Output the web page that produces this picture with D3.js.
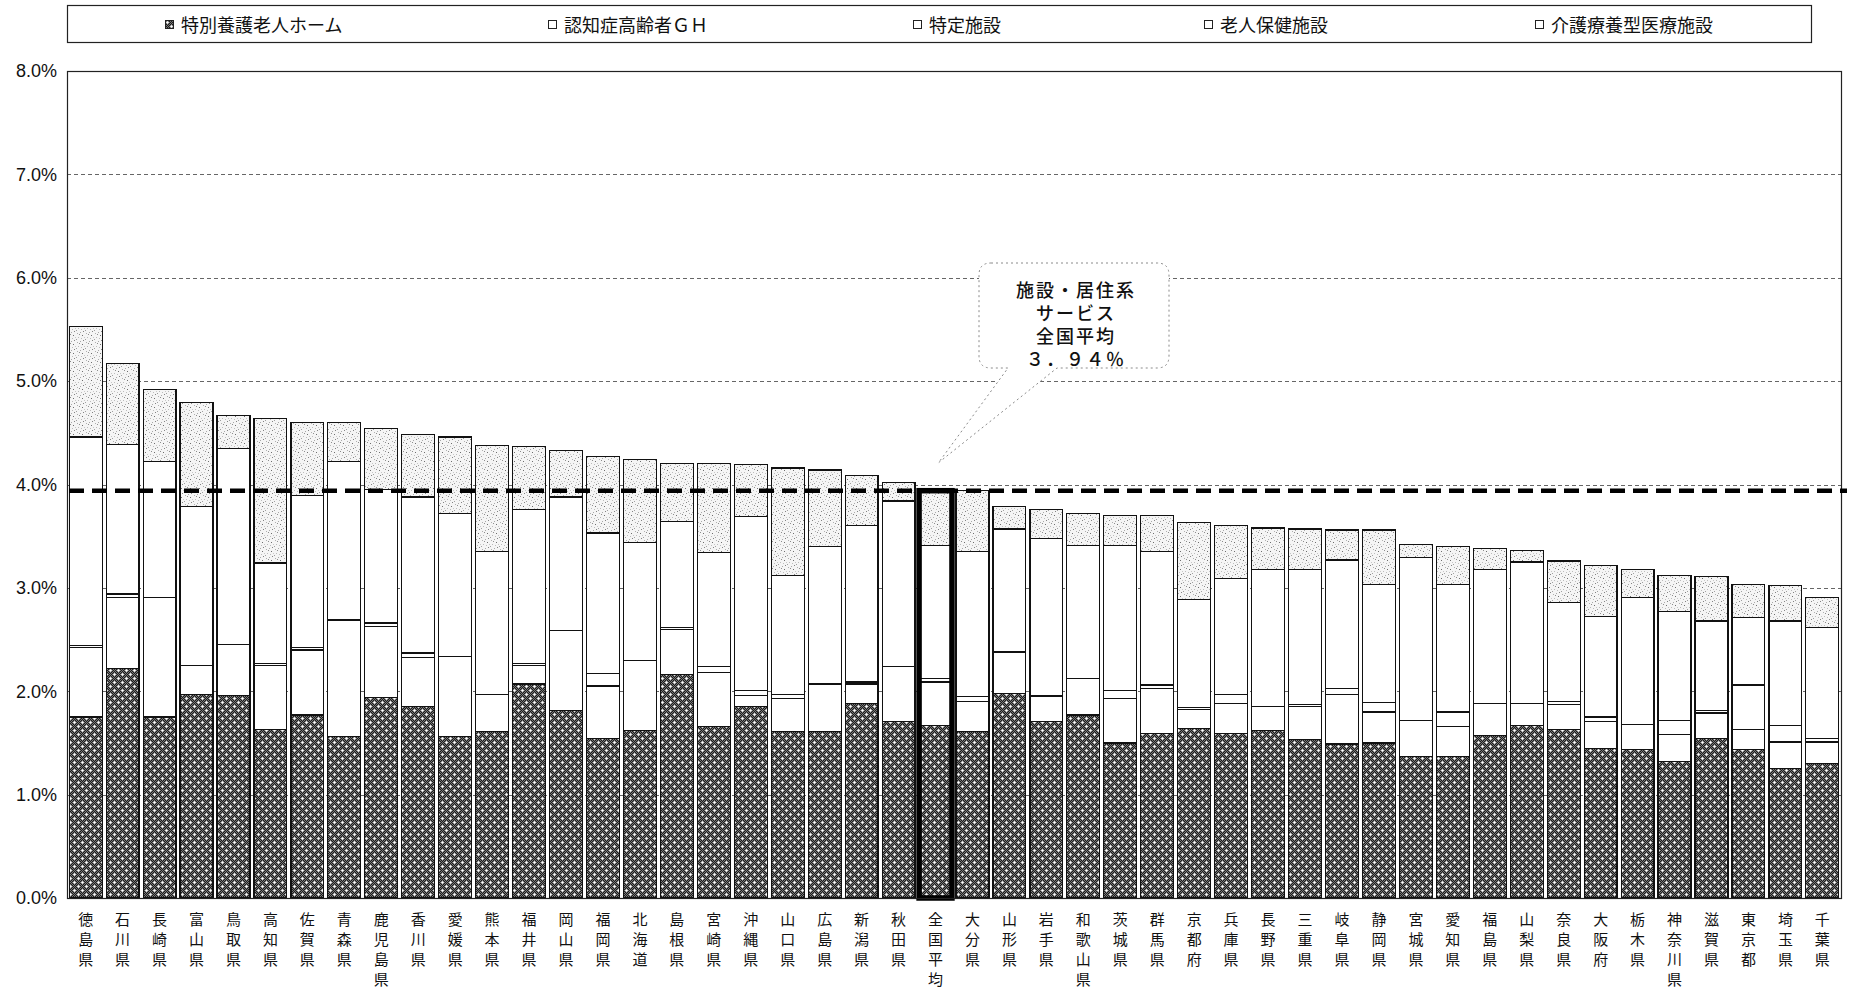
<!DOCTYPE html>
<html>
<head>
<meta charset="utf-8">
<script src="https://cdn.jsdelivr.net/npm/d3@7"></script>
<style>
  body { margin: 0; background: #fff; }
  svg { display: block; }
  text { fill: #111; }
</style>
</head>
<body>
<svg id="chart" width="1849" height="989"></svg>
<script>
// Share of the population 65+ using facility / residential care services, by prefecture (%)
const prefectures = ["徳島県","石川県","長崎県","富山県","鳥取県","高知県","佐賀県","青森県","鹿児島県","香川県","愛媛県","熊本県","福井県","岡山県","福岡県","北海道","島根県","宮崎県","沖縄県","山口県","広島県","新潟県","秋田県","全国平均","大分県","山形県","岩手県","和歌山県","茨城県","群馬県","京都府","兵庫県","長野県","三重県","岐阜県","静岡県","宮城県","愛知県","福島県","山梨県","奈良県","大阪府","栃木県","神奈川県","滋賀県","東京都","埼玉県","千葉県"];

const tokuyou   = [1.75,2.22,1.75,1.97,1.96,1.63,1.77,1.56,1.94,1.85,1.56,1.61,2.07,1.81,1.54,1.62,2.16,1.66,1.85,1.61,1.61,1.88,1.71,1.67,1.61,1.98,1.71,1.77,1.50,1.59,1.64,1.59,1.62,1.53,1.49,1.50,1.37,1.37,1.57,1.67,1.63,1.45,1.44,1.32,1.54,1.44,1.25,1.30];
const groupHome = [0.67,0.69,1.16,0.28,0.49,0.62,0.63,1.13,0.69,0.48,0.78,0.36,0.18,0.78,0.51,0.68,0.44,0.52,0.11,0.32,0.46,0.19,0.53,0.42,0.29,0.40,0.24,0.35,0.43,0.44,0.18,0.29,0.23,0.32,0.48,0.30,0.35,0.29,0.31,0.21,0.24,0.26,0.24,0.26,0.25,0.19,0.26,0.21];
const tokutei   = [0.02,0.03,0.00,0.00,0.00,0.02,0.02,0.00,0.03,0.04,0.00,0.00,0.02,0.00,0.12,0.00,0.02,0.06,0.05,0.04,0.00,0.02,0.00,0.03,0.05,0.00,0.01,0.00,0.08,0.03,0.02,0.09,0.00,0.02,0.06,0.09,0.00,0.14,0.00,0.00,0.03,0.04,0.00,0.14,0.02,0.43,0.16,0.03];
const rouken    = [2.02,1.45,1.31,1.54,1.90,0.97,1.47,1.53,1.29,1.51,1.38,1.38,1.49,1.29,1.36,1.14,1.02,1.10,1.68,1.15,1.33,1.51,1.60,1.29,1.40,1.19,1.52,1.29,1.40,1.29,1.05,1.12,1.33,1.31,1.24,1.14,1.57,1.23,1.30,1.37,0.96,0.97,1.23,1.05,0.87,0.65,1.01,1.08];
const ryouyou   = [1.07,0.78,0.70,1.00,0.32,1.40,0.71,0.38,0.59,0.60,0.74,1.03,0.61,0.45,0.74,0.80,0.56,0.86,0.50,1.04,0.74,0.49,0.18,0.53,0.59,0.22,0.28,0.31,0.29,0.35,0.74,0.51,0.40,0.39,0.29,0.53,0.13,0.37,0.20,0.11,0.40,0.50,0.27,0.35,0.43,0.32,0.34,0.29];

const seriesKeys  = ["tokuyou","groupHome","tokutei","rouken","ryouyou"];
const seriesNames = ["特別養護老人ホーム","認知症高齢者ＧＨ","特定施設","老人保健施設","介護療養型医療施設"];
const yTicks = [0,1,2,3,4,5,6,7,8];
const nationalName = "全国平均";
const nationalAverage = 3.94;
const calloutLines = ["施設・居住系","サービス","全国平均","３．９４％"];

const svg = d3.select("#chart");
const plot = { left: 67, right: 1841, top: 71, bottom: 898 };

// ---- fill patterns ----
const defs = svg.append("defs");
// dark cross-hatch with white specks (特別養護老人ホーム)
const dark = defs.append("pattern").attr("id", "darkHatch")
  .attr("patternUnits", "userSpaceOnUse").attr("width", 8).attr("height", 8);
for (let py = 0; py < 8; py++) {
  for (let px = 0; px < 8; px++) {
    dark.append("rect").attr("x", px).attr("y", py).attr("width", 1).attr("height", 1)
      .attr("fill", (px + py) % 2 === 0 ? "#777" : "#1c1c1c");
  }
}
[[2,2],[6,6]].forEach(([px,py]) => {
  [[0,0,"#fff"],[-1,0,"#ddd"],[1,0,"#ddd"],[0,-1,"#ddd"],[0,1,"#ddd"]].forEach(([dx,dy,c]) =>
    dark.append("rect").attr("x", px + dx).attr("y", py + dy).attr("width", 1).attr("height", 1).attr("fill", c));
});

// light stipple (介護療養型医療施設)
const stip = defs.append("pattern").attr("id", "stipple")
  .attr("patternUnits", "userSpaceOnUse").attr("width", 9).attr("height", 9);
stip.append("rect").attr("width", 9).attr("height", 9).attr("fill", "#f5f5f5");
[[1,2,"#6e6e6e"],[4,6,"#a0a0a0"],[7,1,"#8e8e8e"],[6,4,"#bcbcbc"],[2,7,"#848484"],[8,8,"#aaa"],[3,4,"#c8c8c8"],[5,0,"#b0b0b0"],[0,5,"#bdbdbd"]]
  .forEach(([px,py,c]) => stip.append("rect").attr("x", px).attr("y", py)
    .attr("width", 1).attr("height", 1).attr("fill", c));

const fills = ["url(#darkHatch)", "#fff", "#fff", "#fff", "url(#stipple)"];

// ---- scales ----
const x = d3.scaleBand().domain(prefectures)
  .range([plot.left, plot.right]).paddingInner(0.11).paddingOuter(0.06);
const y = d3.scaleLinear().domain([0, 8]).range([plot.bottom, plot.top]);

// ---- grid ----
svg.append("g").selectAll("line").data(yTicks.filter(t => t > 0 && t < 8)).join("line")
  .attr("x1", plot.left).attr("x2", plot.right)
  .attr("y1", d => Math.round(y(d)) + 0.5).attr("y2", d => Math.round(y(d)) + 0.5)
  .attr("stroke", "#666").attr("stroke-width", 1).attr("stroke-dasharray", "4,3");

// ---- y axis labels ----
const yAxis = d3.axisLeft(y).tickValues(yTicks).tickFormat(d => d.toFixed(1) + "%").tickSize(0).tickPadding(10);
const yg = svg.append("g").attr("transform", `translate(${plot.left},0)`).call(yAxis);
yg.select(".domain").remove();
yg.selectAll("text").attr("font-family", "'Liberation Sans', Arial, sans-serif")
  .attr("font-size", 18).attr("fill", "#222");

// ---- callout ----
const tipX = x(nationalName) + x.bandwidth() / 2 + 3;
const tipY = y(nationalAverage) - 28;
const box = { l: 979, r: 1169, t: 263, b: 368, rad: 12, tail1: 1008, tail2: 1057 };
const cp = d3.path();
cp.moveTo(box.l + box.rad, box.t);
cp.lineTo(box.r - box.rad, box.t);
cp.quadraticCurveTo(box.r, box.t, box.r, box.t + box.rad);
cp.lineTo(box.r, box.b - box.rad);
cp.quadraticCurveTo(box.r, box.b, box.r - box.rad, box.b);
cp.lineTo(box.tail2, box.b);
cp.lineTo(tipX, tipY);
cp.lineTo(box.tail1, box.b);
cp.lineTo(box.l + box.rad, box.b);
cp.quadraticCurveTo(box.l, box.b, box.l, box.b - box.rad);
cp.lineTo(box.l, box.t + box.rad);
cp.quadraticCurveTo(box.l, box.t, box.l + box.rad, box.t);
cp.closePath();
svg.append("path").attr("d", cp.toString()).attr("fill", "#fff")
  .attr("stroke", "#8a8a8a").attr("stroke-width", 1).attr("stroke-dasharray", "2,3");
svg.append("g").selectAll("text").data(calloutLines).join("text")
  .attr("x", (box.l + box.r) / 2 + 2).attr("y", (d, i) => 289 + i * 23)
  .attr("text-anchor", "middle").attr("dominant-baseline", "central")
  .attr("font-family", "'Noto Sans CJK JP', sans-serif").attr("font-size", 18)
  .attr("font-weight", 500).attr("letter-spacing", 2)
  .text(d => d);

// ---- stacked bars ----
const rows = prefectures.map((p, i) => ({
  name: p, tokuyou: tokuyou[i], groupHome: groupHome[i], tokutei: tokutei[i],
  rouken: rouken[i], ryouyou: ryouyou[i]
}));
const stacked = d3.stack().keys(seriesKeys)(rows);

svg.append("g").selectAll("g").data(stacked).join("g")
  .attr("fill", (d, i) => fills[i])
  .selectAll("rect").data(d => d).join("rect")
  .attr("x", d => x(d.data.name))
  .attr("width", x.bandwidth())
  .attr("y", d => y(d[1]))
  .attr("height", d => Math.max(0, y(d[0]) - y(d[1])))
  .attr("stroke", "#111").attr("stroke-width", 1.2)
  .attr("shape-rendering", "crispEdges");

// national average bar outlined in heavy black
const natIdx = prefectures.indexOf(nationalName);
const natTotal = seriesKeys.reduce((s, k) => s + rows[natIdx][k], 0);
svg.append("rect")
  .attr("x", x(nationalName)).attr("width", x.bandwidth())
  .attr("y", y(natTotal)).attr("height", y(0) - y(natTotal))
  .attr("fill", "none").attr("stroke", "#000").attr("stroke-width", 5.5);

// ---- plot frame ----
svg.append("rect").attr("x", plot.left + 0.5).attr("y", plot.top + 0.5)
  .attr("width", plot.right - plot.left).attr("height", plot.bottom - plot.top)
  .attr("fill", "none").attr("stroke", "#222").attr("stroke-width", 1.2);

// ---- national average reference line ----
svg.append("line")
  .attr("x1", plot.left + 2).attr("x2", 1847)
  .attr("y1", y(nationalAverage)).attr("y2", y(nationalAverage))
  .attr("stroke", "#000").attr("stroke-width", 4.5).attr("stroke-dasharray", "15,8");

// ---- x labels (vertical, one character per row) ----
const xl = svg.append("g").selectAll("text").data(prefectures).join("text")
  .attr("x", d => x(d) + x.bandwidth() / 2)
  .attr("text-anchor", "middle")
  .attr("font-family", "'Noto Sans CJK JP', sans-serif").attr("font-size", 15);
xl.each(function (d) {
  const t = d3.select(this);
  Array.from(d).forEach((ch, i) => {
    t.append("tspan").attr("x", x(d) + x.bandwidth() / 2)
      .attr("y", 918 + i * 20).attr("dominant-baseline", "central").text(ch);
  });
});

// ---- legend ----
const legend = svg.append("g");
legend.append("rect").attr("x", 67.5).attr("y", 5.5).attr("width", 1744).attr("height", 37)
  .attr("fill", "#fff").attr("stroke", "#222").attr("stroke-width", 1.2);
const legendX = [169, 552, 917, 1208, 1539];
const li = legend.selectAll("g.item").data(seriesNames).join("g").attr("class", "item")
  .attr("transform", (d, i) => `translate(${legendX[i]},24)`);
li.append("rect").attr("x", -4).attr("y", -4).attr("width", 8).attr("height", 8)
  .attr("fill", (d, i) => i === 0 ? "url(#darkHatch)" : "#fff")
  .attr("stroke", "#222").attr("stroke-width", 1).attr("shape-rendering", "crispEdges");
li.append("text").attr("x", 12).attr("y", 0).attr("dominant-baseline", "central")
  .attr("font-family", "'Noto Sans CJK JP', sans-serif").attr("font-size", 18)
  .text(d => d);
</script>
</body>
</html>
